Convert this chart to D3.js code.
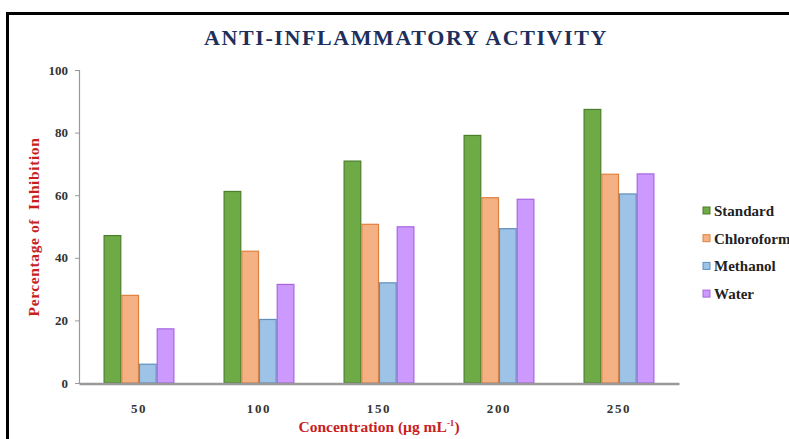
<!DOCTYPE html>
<html>
<head>
<meta charset="utf-8">
<script src="https://cdn.jsdelivr.net/npm/d3@7"></script>
<style>
  body { margin: 0; background: #fff; }
  svg { display: block; font-family: "Liberation Serif", "Times New Roman", serif; }
</style>
</head>
<body>
<svg id="chart" width="789" height="439"></svg>
<script>
// data
const concentrations = ['50', '100', '150', '200', '250'];
const seriesNames = ['Standard', 'Chloroform', 'Methanol', 'Water'];
const standard = [47.1, 61.2, 70.9, 79.1, 87.4];
const chloroform = [28.0, 42.1, 50.7, 59.2, 66.7];
const methanol = [6.0, 20.3, 32.0, 49.3, 60.4];
const water = [17.3, 31.5, 49.9, 58.7, 66.8];
const yTicks = [0, 20, 40, 60, 80, 100];

const seriesValues = [standard, chloroform, methanol, water];
const fills = ['#6eaa45', '#f4b183', '#9dc3e6', '#cc99ff'];
const strokes = ['#4c7f2c', '#e0813f', '#5f8fbd', '#a766de'];

const svg = d3.select('#chart');
const margin = {left: 79, right: 110, top: 70, bottom: 56};
const width = 789, height = 439;

// frame (left + top only, like the crop)
svg.append('path')
  .attr('d', 'M7.5,439 V13.5 H789')
  .attr('fill', 'none')
  .attr('stroke', '#000')
  .attr('stroke-width', 3);

const x = d3.scaleBand()
  .domain(concentrations)
  .range([margin.left, width - margin.right])
  .paddingInner(0.41)
  .paddingOuter(0.205);

const xInner = d3.scaleBand()
  .domain(seriesNames)
  .range([0, x.bandwidth()])
  .padding(0);

const y = d3.scaleLinear()
  .domain([0, 100])
  .range([height - margin.bottom, margin.top]);

// title
svg.append('text')
  .attr('x', 406)
  .attr('y', 45)
  .attr('text-anchor', 'middle')
  .attr('fill', '#1f2f5c')
  .attr('font-size', 22)
  .attr('font-weight', 'bold')
  .attr('letter-spacing', 1.6)
  .text('ANTI-INFLAMMATORY ACTIVITY');

// y axis
const yAxis = d3.axisLeft(y).tickValues(yTicks).tickSize(4).tickPadding(7);
const gy = svg.append('g')
  .attr('transform', 'translate(' + margin.left + ',0)')
  .call(yAxis);
gy.select('.domain').attr('stroke', '#999').attr('stroke-width', 1.2);
gy.selectAll('.tick line').attr('stroke', '#999');
gy.selectAll('.tick text')
  .attr('fill', '#333')
  .attr('font-size', 13)
  .attr('font-weight', 'bold')
  .attr('font-family', '"Liberation Serif", serif');

// bars
const groups = svg.append('g').selectAll('g')
  .data(concentrations)
  .join('g')
  .attr('transform', d => 'translate(' + x(d) + ',0)');

groups.selectAll('rect')
  .data((d, i) => seriesNames.map((s, j) => ({series: s, j: j, value: seriesValues[j][i]})))
  .join('rect')
  .attr('x', d => xInner(d.series) + 0.5)
  .attr('y', d => y(d.value))
  .attr('width', xInner.bandwidth() - 1)
  .attr('height', d => y(0) - y(d.value))
  .attr('fill', d => fills[d.j])
  .attr('stroke', d => strokes[d.j])
  .attr('stroke-width', 1.2);

// x axis
const xAxis = d3.axisBottom(x).tickSize(0).tickPadding(20);
const gx = svg.append('g')
  .attr('transform', 'translate(0,' + (y(0) + 0.5) + ')')
  .call(xAxis);
gx.select('.domain').attr('stroke', '#999').attr('stroke-width', 2.5);
gx.selectAll('.tick text')
  .attr('fill', '#333')
  .attr('font-size', 13)
  .attr('font-weight', 'bold')
  .attr('letter-spacing', 1.6)
  .attr('font-family', '"Liberation Serif", serif');

// axis titles
svg.append('text')
  .attr('transform', 'translate(39,' + 227 + ') rotate(-90)')
  .attr('text-anchor', 'middle')
  .attr('fill', '#c81e1e')
  .attr('font-size', 15.5)
  .attr('font-weight', 'bold')
  .attr('letter-spacing', 0.6)
  .attr('xml:space', 'preserve')
  .text('Percentage of  Inhibition');

const xt = svg.append('text')
  .attr('x', 379)
  .attr('y', 432)
  .attr('text-anchor', 'middle')
  .attr('fill', '#c81e1e')
  .attr('font-size', 15.5)
  .attr('font-weight', 'bold');
xt.append('tspan').text('Concentration (µg mL');
xt.append('tspan').attr('font-size', 9).attr('dy', -6).text('-1');
xt.append('tspan').attr('dy', 6).text(')');

// legend
const legend = svg.append('g').selectAll('g')
  .data(seriesNames)
  .join('g')
  .attr('transform', (d, i) => 'translate(703,' + (211 + i * 27.7) + ')');
legend.append('rect')
  .attr('x', 0).attr('y', -4)
  .attr('width', 7).attr('height', 7)
  .attr('fill', (d, i) => fills[i])
  .attr('stroke', (d, i) => strokes[i]);
legend.append('text')
  .attr('x', 11)
  .attr('y', 5)
  .attr('fill', '#222')
  .attr('font-size', 15)
  .attr('font-weight', 'bold')
  .text(d => d);
</script>
</body>
</html>
